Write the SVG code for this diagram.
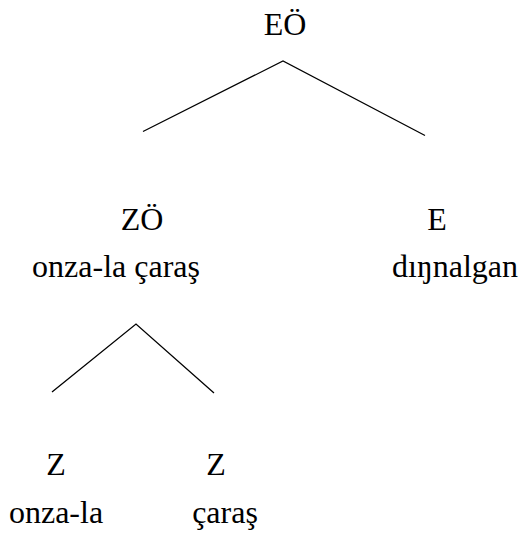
<svg xmlns="http://www.w3.org/2000/svg" width="520" height="539" viewBox="0 0 520 539">
<style>
.t{font-size:32px;fill:#000;text-anchor:middle}
.edge{stroke:#000;stroke-width:1.3;fill:none}
</style>
<rect width="520" height="539" fill="#fff"/>
<g id="connectors">
<polyline class="edge" points="143,131.5 283,61 425,135.5"/>
<polyline class="edge" points="52,392 136,324 214,393"/>
</g>
<g font-family="Liberation Serif, Times New Roman, DejaVu Serif, serif">
<g id="node-EO"><text class="t" x="285" y="35">EÖ</text></g>
<g id="node-ZO"><text class="t" x="142" y="230">ZÖ</text><text class="t" x="116" y="277">onza-la çaraş</text></g>
<g id="node-E"><text class="t" x="437" y="230">E</text><text class="t" x="455" y="277">dıŋnalgan</text></g>
<g id="node-Z1"><text class="t" x="56" y="475">Z</text><text class="t" x="56" y="523">onza-la</text></g>
<g id="node-Z2"><text class="t" x="216" y="475">Z</text><text class="t" x="225" y="523">çaraş</text></g>
</g>
</svg>
